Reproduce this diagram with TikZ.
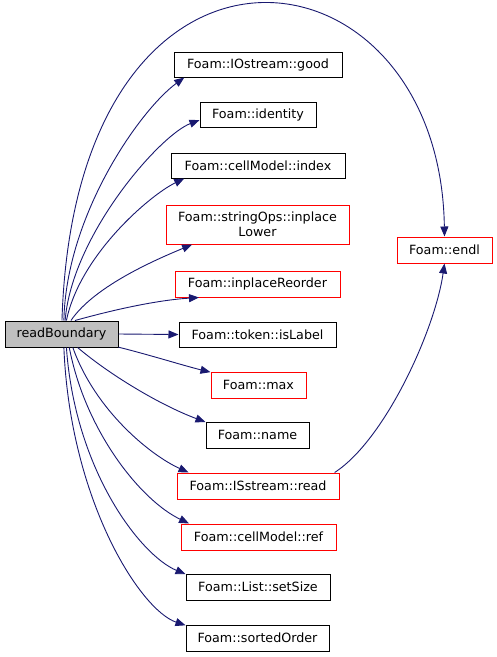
\documentclass[tikz,border=0pt]{standalone}
\usepackage{fontspec}
\setmainfont{DejaVu Sans}
\usetikzlibrary{arrows.meta}
\definecolor{edgecol}{HTML}{191970}
\tikzset{
  fn/.style={draw=black, line width=1pt, inner sep=0pt, align=center, font=\fontsize{12.7}{15}\selectfont},
  fnred/.style={fn, draw=red},
  edge/.style={draw=edgecol, line width=0.9pt, -{Triangle[length=10pt,width=8pt]}},
}
\begin{document}
\begin{tikzpicture}[x=1pt,y=-1pt]
\useasboundingbox (0,0) rectangle (497,657);
\node[fn, fill=black!25, minimum width=113pt, minimum height=26pt] (rb) at (61.5,334) {readBoundary};
\node[fn, minimum width=168pt, minimum height=25pt] (good) at (258,64.5) {Foam::IOstream::good};
\node[fn, minimum width=116pt, minimum height=25pt] (identity) at (258,115) {Foam::identity};
\node[fn, minimum width=174pt, minimum height=25pt] (index) at (258,165.5) {Foam::cellModel::index};
\node[fnred, minimum width=183pt, minimum height=39pt] (lower) at (257.5,224.5) {Foam::stringOps::inplace\\Lower};
\node[fnred, minimum width=165pt, minimum height=26pt] (reorder) at (257.5,284) {Foam::inplaceReorder};
\node[fn, minimum width=157pt, minimum height=25pt] (islabel) at (257.5,334.5) {Foam::token::isLabel};
\node[fnred, minimum width=95pt, minimum height=26pt] (max) at (258.5,385) {Foam::max};
\node[fn, minimum width=103pt, minimum height=26pt] (name) at (257.5,435) {Foam::name};
\node[fnred, minimum width=162pt, minimum height=26pt] (read) at (258,486) {Foam::ISstream::read};
\node[fnred, minimum width=155pt, minimum height=26pt] (ref) at (258.5,537) {Foam::cellModel::ref};
\node[fn, minimum width=144pt, minimum height=26pt] (setsize) at (258,587) {Foam::List::setSize};
\node[fn, minimum width=143pt, minimum height=26pt] (sorted) at (257.5,638) {Foam::sortedOrder};
\node[fnred, minimum width=95pt, minimum height=26pt] (endl) at (444.5,250) {Foam::endl};

\draw[edge] (rb.88) .. controls (75,-110) and (440,-65) .. (endl.north);
\draw[edge] (rb.80) .. controls (66,215) and (140,110) .. (good.-170);
\draw[edge] (rb.75) .. controls (72,235) and (160,135) .. (identity.-175);
\draw[edge] (rb.70) .. controls (80,255) and (150,195) .. (index.-170);
\draw[edge] (rb.55) .. controls (95,285) and (160,258) .. (lower.-163);
\draw[edge] (rb.45) .. controls (120,308) and (160,300) .. (reorder.-167);
\draw[edge] (rb.east) -- (islabel.west);
\draw[edge] (rb.-13) .. controls (150,355) and (185,366) .. (max.165);
\draw[edge] (rb.-40) .. controls (110,375) and (160,405) .. (name.166);
\draw[edge] (rb.-50) .. controls (95,410) and (150,455) .. (read.169);
\draw[edge] (rb.-60) .. controls (85,430) and (140,500) .. (ref.169);
\draw[edge] (rb.-70) .. controls (75,470) and (140,555) .. (setsize.170);
\draw[edge] (rb.-80) .. controls (70,500) and (140,610) .. (sorted.170);
\draw[edge] (read.10) .. controls (385,440) and (435,330) .. (endl.south);
\end{tikzpicture}
\end{document}
